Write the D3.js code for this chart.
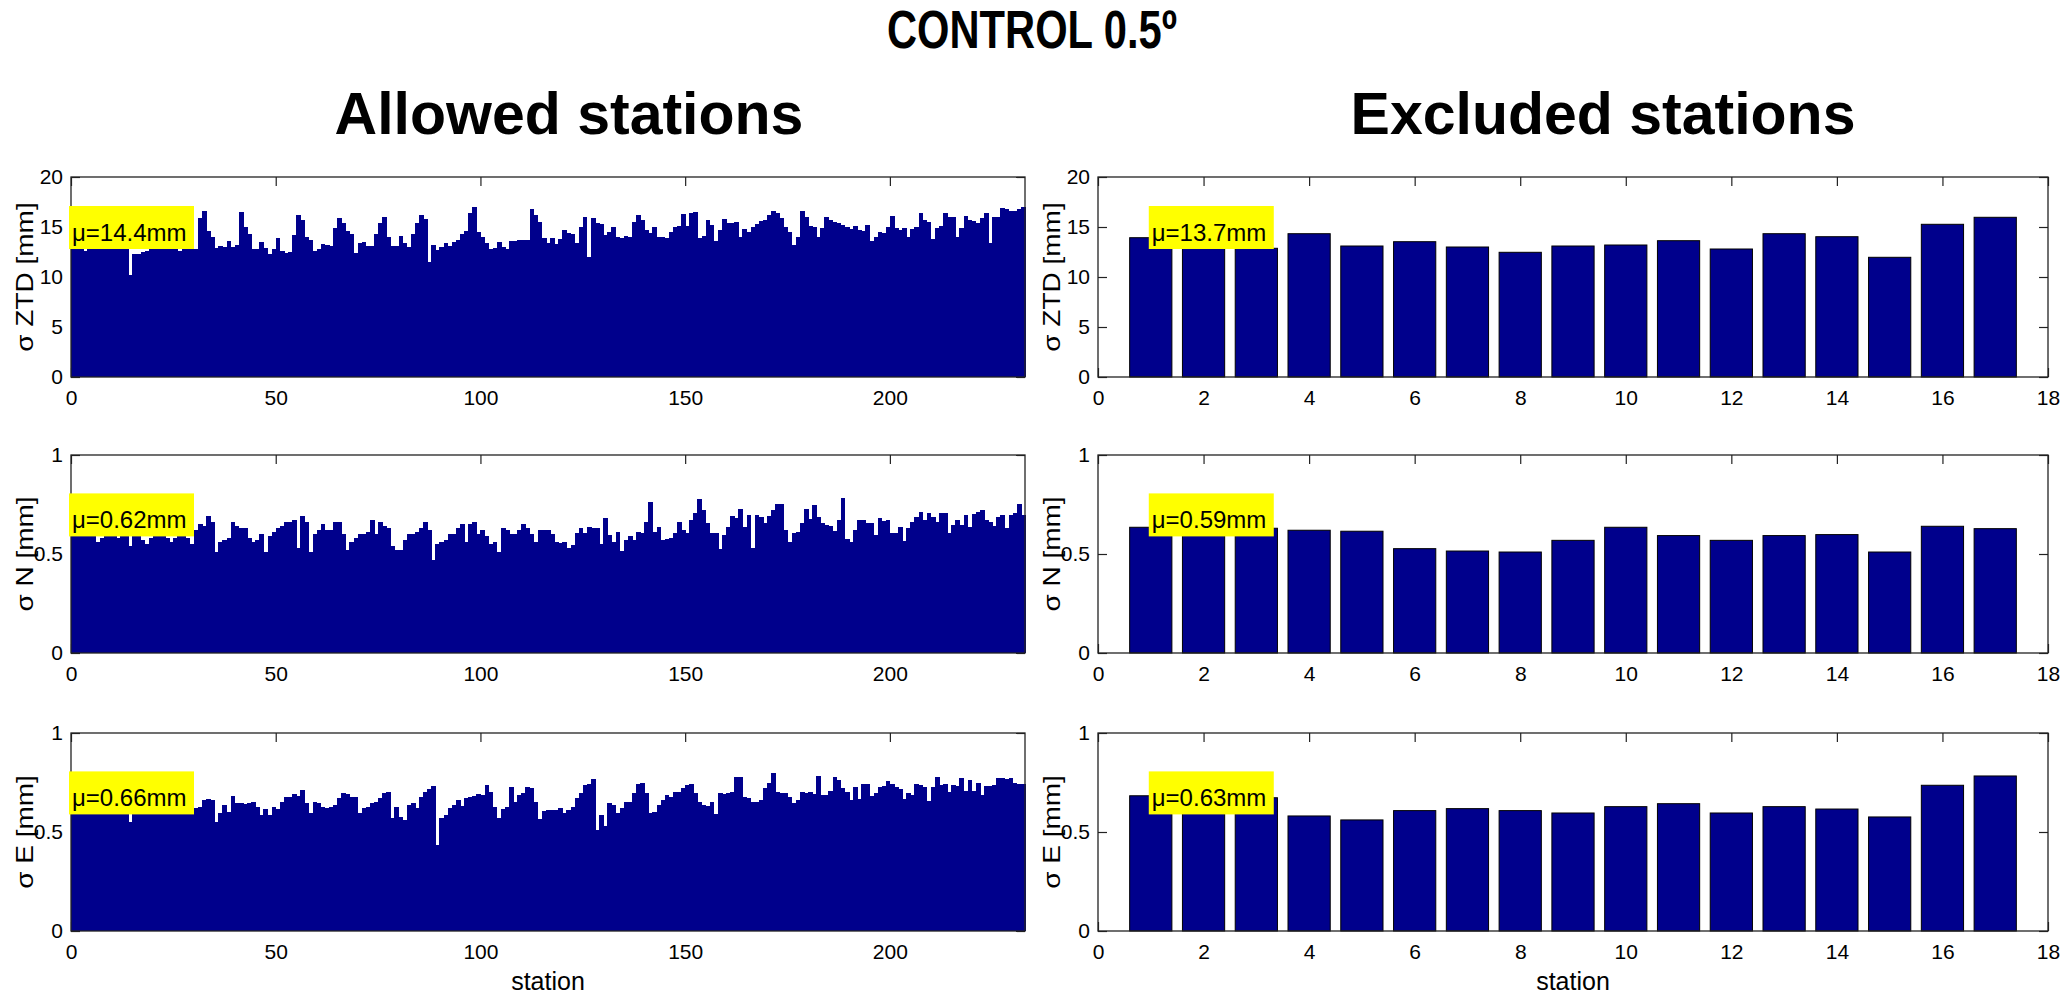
<!doctype html>
<html>
<head>
<meta charset="utf-8">
<title>CONTROL 0.5º</title>
<style>
  body { margin: 0; background: #fff; }
  svg { display: block; font-family: "Liberation Sans", Arial, Helvetica, sans-serif; }
</style>
</head>
<body>
<svg></svg>
<script src="https://cdnjs.cloudflare.com/ajax/libs/d3/7.8.5/d3.min.js"></script>
<script>
// ---- data ----
var allowedZTD = [
  12.9, 12.9, 12.8, 12.6, 12.9, 12.9, 12.8, 12.9, 12.9, 12.9, 12.8, 12.9, 12.9, 12.8, 10.2, 12.3, 12.3, 12.5, 12.6, 12.8,
  12.8, 12.9, 12.9, 12.9, 12.8, 12.8, 12.6, 12.8, 12.9, 12.9,
  12.77, 15.87, 16.63, 14.63, 13.97, 12.87, 13.1, 12.97, 13.63, 12.97,
  13.2, 16.47, 15.03, 14.3, 12.77, 12.77, 13.53, 12.87, 12.3, 12.77,
  13.87, 12.63, 12.43, 12.53, 14.2, 16.2, 15.7, 13.97, 13.7, 12.63,
  12.77, 13.3, 13.2, 13.1, 14.87, 15.87, 15.43, 14.63, 14.3, 12.37,
  13.43, 13.53, 13.1, 13.1, 14.3, 15.37, 15.97, 13.97, 13.1, 13.1,
  14.1, 13.37, 13.03, 14.3, 15.37, 16.2, 15.77, 11.53, 13.2, 12.7,
  12.97, 13.37, 13.1, 13.53, 13.7, 14.3, 14.63, 16.37, 16.97, 14.53,
  13.97, 13.43, 12.77, 12.87, 13.53,
  12.97, 12.77, 13.6, 13.6, 13.7, 13.7, 13.7, 16.77, 16.2,
  15.53, 13.87, 13.37, 13.87, 13.3, 13.8, 14.7, 14.43, 14.3, 13.37,
  15.03, 16.03, 12.03, 15.87, 15.37, 15.3, 14.2, 14.53, 15.03, 14.03,
  13.87, 14.1, 14.03, 15.53, 16.2, 15.7, 14.7, 14.43, 15.03,
  13.97, 13.97, 13.87, 14.53, 15.03, 15.1, 16.3, 15.1, 16.43, 16.53,
  13.87, 14.1, 15.7, 15.2, 13.6, 14.7, 15.77, 15.43, 15.43, 15.53,
  13.97, 14.77, 14.53, 15.03, 15.3, 15.63, 15.7, 16.2, 16.63, 16.43,
  15.87, 14.97, 14.53, 13.2, 13.97, 16.63, 15.97, 15.1, 15.03, 14.03,
  14.87, 15.97, 15.7, 15.53, 15.43, 15.2, 15.03, 14.77, 15.1, 14.7,
  14.63, 15.2, 13.6, 14.03, 14.53, 14.43, 15.03, 16.1, 14.87, 14.7,
  14.87, 14.03, 14.77, 15.03, 16.37, 15.7, 15.53, 13.8, 14.87, 15.1,
  16.37, 16.03, 16.03, 14.03, 14.87, 16.1, 15.7, 15.6, 15.43, 15.87,
  16.43, 13.43, 16.03, 15.97, 16.87, 16.77, 16.63, 16.63, 16.77, 16.97
];
var allowedN = [
  0.59, 0.59, 0.60, 0.59, 0.59, 0.59, 0.56, 0.58, 0.59, 0.59, 0.59, 0.58, 0.59, 0.59, 0.54, 0.59, 0.59, 0.57, 0.55, 0.58,
  0.59, 0.59, 0.59, 0.58, 0.56, 0.58, 0.59, 0.59, 0.58, 0.55,
  0.62, 0.65, 0.64, 0.69, 0.66, 0.51, 0.56, 0.57, 0.58, 0.66,
  0.64, 0.63, 0.63, 0.58, 0.56, 0.57, 0.60, 0.51, 0.59, 0.61,
  0.63, 0.64, 0.66, 0.66, 0.67, 0.53, 0.69, 0.66, 0.51, 0.60,
  0.62, 0.65, 0.62, 0.62, 0.66, 0.66, 0.60, 0.52, 0.56, 0.58,
  0.60, 0.60, 0.61, 0.67, 0.60, 0.66, 0.64, 0.63, 0.54, 0.52,
  0.52, 0.57, 0.60, 0.60, 0.61, 0.63, 0.66, 0.62, 0.47, 0.55,
  0.56, 0.57, 0.60, 0.60, 0.63, 0.65, 0.56, 0.65, 0.66, 0.60,
  0.62, 0.59, 0.55, 0.56, 0.51, 0.63, 0.62, 0.60, 0.60, 0.62,
  0.65, 0.63, 0.60, 0.56, 0.62, 0.62, 0.62, 0.60,
  0.562, 0.557, 0.562, 0.529, 0.545, 0.604, 0.633, 0.604, 0.638, 0.633,
  0.630, 0.551, 0.680, 0.596, 0.562, 0.613, 0.515, 0.571, 0.591, 0.571,
  0.613, 0.604, 0.663, 0.764, 0.613, 0.638, 0.571, 0.574, 0.579, 0.604,
  0.663, 0.621, 0.604, 0.672, 0.705, 0.778, 0.722, 0.655, 0.608, 0.604,
  0.524, 0.596, 0.638, 0.692, 0.680, 0.726, 0.638, 0.697, 0.532, 0.697,
  0.685, 0.655, 0.692, 0.722, 0.753, 0.753, 0.621, 0.562, 0.608, 0.613,
  0.655, 0.726, 0.675, 0.747, 0.685, 0.655, 0.646, 0.641, 0.618, 0.672,
  0.781, 0.574, 0.562, 0.621, 0.672, 0.672, 0.658, 0.658, 0.596, 0.680,
  0.668, 0.672, 0.604, 0.608, 0.638, 0.566, 0.630, 0.663, 0.689, 0.714,
  0.672, 0.705, 0.685, 0.663, 0.705, 0.705, 0.608, 0.646, 0.672, 0.646,
  0.697, 0.638, 0.702, 0.714, 0.722, 0.672, 0.663, 0.641, 0.685, 0.697,
  0.630, 0.697, 0.705, 0.753, 0.697
];
var allowedE = [
  0.59, 0.59, 0.59, 0.60, 0.59, 0.59, 0.59, 0.59, 0.60, 0.59, 0.59, 0.59, 0.59, 0.59, 0.55, 0.59, 0.59, 0.59, 0.59, 0.60,
  0.59, 0.59, 0.59, 0.59, 0.59, 0.59, 0.60, 0.59, 0.59, 0.59,
  0.620, 0.628, 0.662, 0.665, 0.662, 0.552, 0.594, 0.636, 0.603, 0.682,
  0.645, 0.645, 0.641, 0.648, 0.653, 0.628, 0.586, 0.614, 0.586, 0.628,
  0.614, 0.653, 0.678, 0.678, 0.692, 0.682, 0.712, 0.648, 0.594, 0.653,
  0.645, 0.628, 0.620, 0.628, 0.636, 0.670, 0.699, 0.692, 0.678, 0.678,
  0.594, 0.620, 0.628, 0.648, 0.653, 0.670, 0.695, 0.704, 0.569, 0.628,
  0.574, 0.561, 0.636, 0.648, 0.620, 0.678, 0.704, 0.716, 0.732, 0.434,
  0.569, 0.586, 0.620, 0.636, 0.662, 0.631, 0.670, 0.675, 0.682, 0.692,
  0.687, 0.737, 0.704, 0.628, 0.569, 0.614, 0.628, 0.726, 0.653, 0.687,
  0.695, 0.729, 0.721, 0.653, 0.564, 0.608, 0.610,
  0.611, 0.611, 0.620, 0.598, 0.611, 0.628, 0.670, 0.695, 0.737, 0.742,
  0.766, 0.510, 0.586, 0.530, 0.648, 0.636, 0.594, 0.620, 0.653, 0.653,
  0.695, 0.742, 0.746, 0.695, 0.594, 0.603, 0.636, 0.662, 0.687, 0.675,
  0.704, 0.704, 0.721, 0.737, 0.742, 0.695, 0.653, 0.636, 0.631, 0.653,
  0.591, 0.695, 0.692, 0.695, 0.704, 0.776, 0.776, 0.675, 0.670, 0.653,
  0.653, 0.662, 0.721, 0.749, 0.800, 0.704, 0.695, 0.695, 0.675, 0.648,
  0.662, 0.704, 0.699, 0.704, 0.692, 0.783, 0.687, 0.687, 0.709, 0.776,
  0.763, 0.721, 0.704, 0.662, 0.729, 0.665, 0.742, 0.742, 0.682, 0.695,
  0.726, 0.732, 0.759, 0.742, 0.726, 0.716, 0.665, 0.695, 0.687, 0.742,
  0.737, 0.729, 0.658, 0.726, 0.776, 0.737, 0.742, 0.704, 0.737, 0.732,
  0.771, 0.709, 0.763, 0.709, 0.749, 0.687, 0.732, 0.732, 0.737, 0.771,
  0.771, 0.766, 0.771, 0.746, 0.742, 0.740
];

var excludedStations = d3.range(1, 18);
var excludedZTD = [13.93, 14.2, 12.87, 14.33, 13.1, 13.53, 13.0, 12.47, 13.1, 13.2, 13.63, 12.8, 14.33, 14.03, 11.97, 15.27, 15.97];
var excludedN = [0.635, 0.64, 0.630, 0.620, 0.615, 0.527, 0.515, 0.510, 0.569, 0.635, 0.593, 0.569, 0.593, 0.598, 0.510, 0.640, 0.628];
var excludedE = [0.683, 0.64, 0.673, 0.581, 0.561, 0.608, 0.618, 0.608, 0.596, 0.628, 0.643, 0.596, 0.628, 0.616, 0.576, 0.736, 0.783];

var allowedMu = ["μ=14.4mm", "μ=0.62mm", "μ=0.66mm"];
var excludedMu = ["μ=13.7mm", "μ=0.59mm", "μ=0.63mm"];
var yLabels = ["σ ZTD [mm]", "σ N [mm]", "σ E [mm]"];
var ztdTicks = [0, 5, 10, 15, 20];
var neTicks = [0, 0.5, 1];
var allowedXTicks = [0, 50, 100, 150, 200];
var excludedXTicks = [0, 2, 4, 6, 8, 10, 12, 14, 16, 18];

// ---- layout ----
var width = 2067, height = 995;
var barColor = "#00008c";
var cols = [{ x0: 71, x1: 1025 }, { x0: 1098, x1: 2048 }];
var rows = [{ y0: 177, y1: 377 }, { y0: 455, y1: 653 }, { y0: 733, y1: 931 }];

var svg = d3.select("svg")
  .attr("width", width)
  .attr("height", height);

svg.append("text")
  .attr("x", 1032).attr("y", 48)
  .attr("text-anchor", "middle")
  .attr("font-size", 54).attr("font-weight", "bold")
  .attr("textLength", 290).attr("lengthAdjust", "spacingAndGlyphs")
  .text("CONTROL 0.5º");

svg.append("text")
  .attr("x", 569).attr("y", 134)
  .attr("text-anchor", "middle")
  .attr("font-size", 59).attr("font-weight", "bold")
  .text("Allowed stations");

svg.append("text")
  .attr("x", 1603).attr("y", 134)
  .attr("text-anchor", "middle")
  .attr("font-size", 59).attr("font-weight", "bold")
  .text("Excluded stations");

var panels = [];
[allowedZTD, allowedN, allowedE].forEach(function(v, i) {
  panels.push({ values: v, kind: "hist", col: 0, row: i, xDomain: [0, v.length], xTicks: allowedXTicks,
    yMax: i === 0 ? 20 : 1, yTicks: i === 0 ? ztdTicks : neTicks, yLabel: yLabels[i],
    mu: allowedMu[i], muX: 0, muY: i === 0 ? 15 : 0.7 });
});
[excludedZTD, excludedN, excludedE].forEach(function(v, i) {
  panels.push({ values: v, kind: "bar", col: 1, row: i, xDomain: [0, 18], xTicks: excludedXTicks,
    yMax: i === 0 ? 20 : 1, yTicks: i === 0 ? ztdTicks : neTicks, yLabel: yLabels[i],
    mu: excludedMu[i], muX: 1, muY: i === 0 ? 15 : 0.7 });
});

panels.forEach(drawPanel);

function drawPanel(p) {
  var c = cols[p.col], r = rows[p.row];
  var x = d3.scaleLinear().domain(p.xDomain).range([c.x0, c.x1]);
  var y = d3.scaleLinear().domain([0, p.yMax]).range([r.y1, r.y0]);
  var g = svg.append("g");
  var tk = 9;

  // ticks point inward (matlab style), drawn under the bars
  var top = g.append("g").attr("transform", "translate(0," + r.y0 + ")")
    .call(d3.axisTop(x).tickValues(p.xTicks).tickSize(-tk).tickFormat(""));
  var bottom = g.append("g").attr("transform", "translate(0," + r.y1 + ")")
    .call(d3.axisBottom(x).tickValues(p.xTicks).tickSizeInner(-tk).tickSizeOuter(0).tickPadding(13)
      .tickFormat(d3.format("d")));
  var left = g.append("g").attr("transform", "translate(" + c.x0 + ",0)")
    .call(d3.axisLeft(y).tickValues(p.yTicks).tickSizeInner(-tk).tickSizeOuter(0).tickPadding(8)
      .tickFormat(function(d) { return String(d); }));
  var right = g.append("g").attr("transform", "translate(" + c.x1 + ",0)")
    .call(d3.axisRight(y).tickValues(p.yTicks).tickSize(-tk).tickFormat(""));

  [top, bottom, left, right].forEach(function(a) {
    a.attr("font-family", null).attr("font-size", 21);
    a.select(".domain").remove();
    a.selectAll("line").attr("stroke", "#222").attr("stroke-width", 1.2);
    a.selectAll("text").attr("fill", "#000");
  });

  if (p.kind === "hist") {
    g.selectAll("rect.bar").data(p.values).enter().append("rect")
      .attr("class", "bar")
      .attr("x", function(d, i) { return x(i); })
      .attr("width", function(d, i) { return x(i + 1) - x(i) + 0.6; })
      .attr("y", function(d) { return y(d); })
      .attr("height", function(d) { return y(0) - y(d); })
      .attr("fill", barColor)
      .attr("shape-rendering", "crispEdges");
  } else {
    g.selectAll("rect.bar").data(p.values).enter().append("rect")
      .attr("class", "bar")
      .attr("x", function(d, i) { return x(excludedStations[i] - 0.4); })
      .attr("width", x(0.8) - x(0))
      .attr("y", function(d) { return y(d); })
      .attr("height", function(d) { return y(0) - y(d); })
      .attr("fill", barColor)
      .attr("stroke", "#000")
      .attr("stroke-width", 1);
  }

  g.append("rect")
    .attr("x", c.x0).attr("y", r.y0)
    .attr("width", c.x1 - c.x0).attr("height", r.y1 - r.y0)
    .attr("fill", "none").attr("stroke", "#222").attr("stroke-width", 1.3);

  // mean label
  var mx = x(p.muX) - 2, my = y(p.muY);
  g.append("rect")
    .attr("x", mx).attr("y", my - 21)
    .attr("width", 125).attr("height", 43)
    .attr("fill", "#ffff00");
  g.append("text")
    .attr("x", mx + 3).attr("y", my + 14)
    .attr("font-size", 24)
    .text(p.mu);

  g.append("text")
    .attr("transform", "translate(" + (c.x0 - 46) + "," + ((r.y0 + r.y1) / 2) + ") rotate(-90) scale(1,0.85)")
    .attr("text-anchor", "middle")
    .attr("dy", "0.35em")
    .attr("font-size", 28)
    .text(p.yLabel);

  if (p.row === 2) {
    g.append("text")
      .attr("x", (c.x0 + c.x1) / 2).attr("y", 990)
      .attr("text-anchor", "middle")
      .attr("font-size", 25)
      .text("station");
  }
}
</script>
</body>
</html>
